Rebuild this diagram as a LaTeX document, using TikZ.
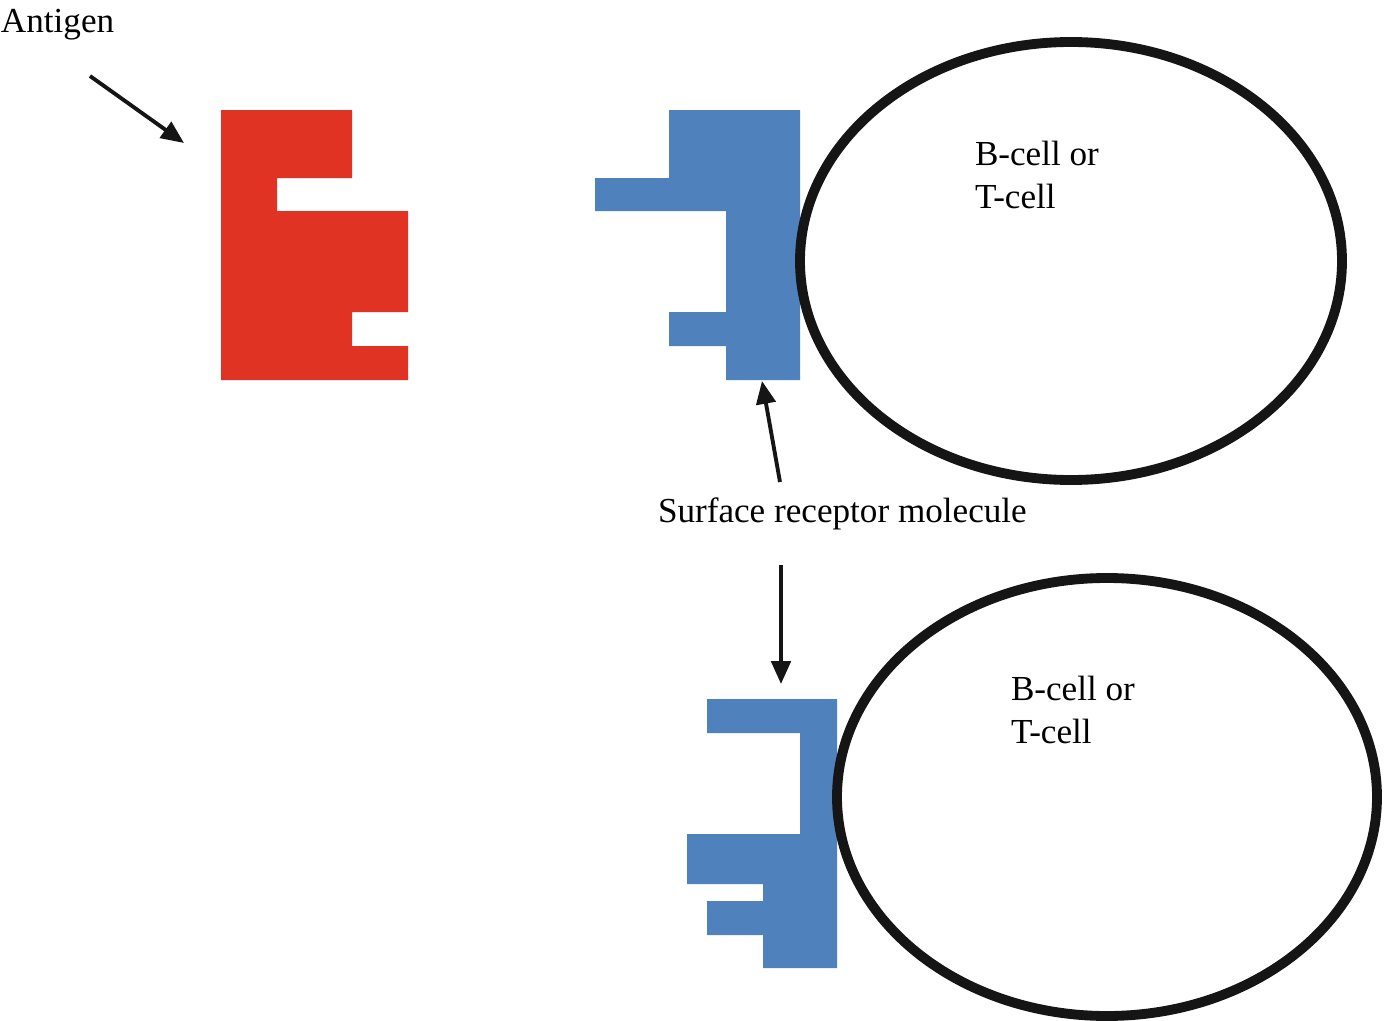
\documentclass[tikz,border=0pt]{standalone}
\usepackage{fontspec}
\setmainfont{Liberation Serif}
\usepackage{tikz}
\usetikzlibrary{positioning, arrows.meta}
\definecolor{antigenred}{RGB}{224,51,36}
\definecolor{receptorblue}{RGB}{79,129,189}
\definecolor{ink}{RGB}{21,21,21}

\begin{document}
\begin{tikzpicture}[x=0.02cm,y=-0.02cm,
        every node/.style={inner sep=0pt,outer sep=0pt,font=\fontsize{20}{24}\selectfont},
        arr/.style={ink,line width=2.2pt,-{Triangle[length=13pt,width=11pt]}},
        cell/.style={ink,line width=5.6pt}]
    \useasboundingbox (0,0) rectangle (1384,1021);

            % antigen
            \fill[antigenred] (221,110) -- (352,110) -- (352,178) -- (277,178) -- (277,211)
                -- (408,211) -- (408,312) -- (352,312) -- (352,346) -- (408,346)
                -- (408,380) -- (221,380) -- cycle;

            % upper cell with receptor
            \fill[receptorblue] (669,110) -- (800,110) -- (800,380) -- (726,380) -- (726,346)
                -- (669,346) -- (669,312) -- (726,312) -- (726,211) -- (595,211)
                -- (595,178) -- (669,178) -- cycle;
            \draw[cell] (1071,261) ellipse (271 and 219);

            % lower cell with receptor
            \fill[receptorblue] (707,699) -- (837,699) -- (837,968) -- (763,968) -- (763,935)
                -- (707,935) -- (707,901) -- (763,901) -- (763,884) -- (687,884)
                -- (687,834) -- (800,834) -- (800,733) -- (707,733) -- cycle;
            \draw[cell] (1107,797) ellipse (270 and 219);

            % labels
            \node[anchor=base west] (antigen) at (1,32) {Antigen};
            \node[anchor=base west,align=left] (cell1) at (975,208) {B-cell or\\T-cell};
            \node[anchor=base west,align=left] (cell2) at (1011,743) {B-cell or\\T-cell};
            \node[anchor=base west] (receptor) at (658,522) {Surface receptor molecule};

            \coordinate (a0) at (90,76);
            \coordinate (a1) at (184,143);
            \coordinate (r0) at (780,482);
            \coordinate (r1) at (762,381);
            \coordinate (d0) at (781,565);
            \coordinate (d1) at (781,684);

            \draw[arr] (a0) -- (a1);
            \draw[arr] (r0) -- (r1);
            \draw[arr] (d0) -- (d1);
\end{tikzpicture}
\end{document}
